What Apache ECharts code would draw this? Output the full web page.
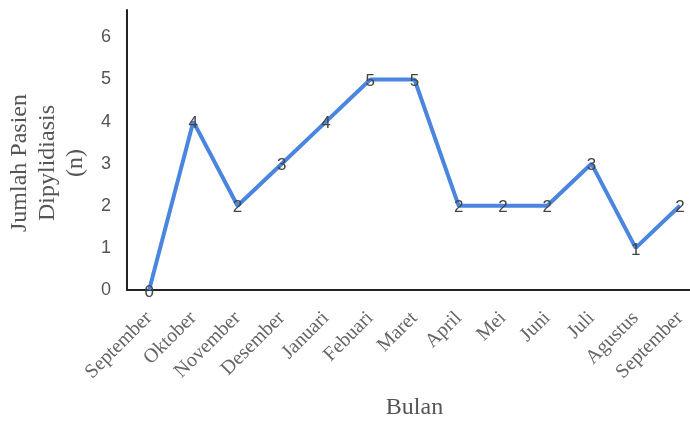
<!DOCTYPE html>
<html>
<head>
<meta charset="utf-8">
<script src="https://cdn.jsdelivr.net/npm/echarts@6/dist/echarts.min.js"></script>
<style>
  html, body { margin: 0; padding: 0; background: #fff; }
  #chart { width: 690px; height: 421px; }
</style>
</head>
<body>
<div id="chart"></div>
<script>
// bulan pengamatan
var months = ['September', 'Oktober', 'November', 'Desember', 'Januari', 'Febuari', 'Maret',
  'April', 'Mei', 'Juni', 'Juli', 'Agustus', 'September']
// jumlah pasien per bulan
var patients = [0, 4, 2, 3, 4, 5, 5, 2, 2, 2, 3, 1, 2]
var yTicks = [0, 1, 2, 3, 4, 5, 6]

var serif = '"Liberation Serif", "Times New Roman", serif'
var sans = 'Arial, "Liberation Sans", sans-serif'

var option = {
  animation: false,
  grid: { // jarak grafik
    left: 127,
    right: -12,
    top: 10,
    bottom: 131,
    outerBoundsMode: 'none'
  },
  xAxis: {
    type: 'category',
    data: months,
    boundaryGap: true,
    name: 'Bulan',
    nameLocation: 'middle',
    nameGap: 106,
    nameTextStyle: { fontFamily: serif, fontSize: 24, color: '#555' },
    axisLine: { lineStyle: { color: '#222', width: 2 } },
    axisTick: { show: false },
    axisLabel: {
      rotate: 45,
      interval: 0,
      margin: 25,
      fontFamily: serif,
      fontSize: 20,
      color: '#666'
    }
  },
  yAxis: {
    type: 'value',
    min: 0,
    max: 6.65,
    interval: 1,
    name: 'Jumlah Pasien\nDipylidiasis\n(n)',
    nameLocation: 'middle',
    nameGap: 36,
    nameTextStyle: { fontFamily: serif, fontSize: 24, color: '#555', lineHeight: 28, padding: [0, 26, 0, 0] },
    axisLine: { show: true, lineStyle: { color: '#222', width: 2 } },
    axisTick: { show: false },
    splitLine: { show: false },
    axisLabel: {
      margin: 16,
      fontFamily: sans,
      fontSize: 18,
      color: '#555',
      formatter: function (v) {
        return yTicks.indexOf(v) >= 0 ? String(v) : ''
      }
    }
  },
  series: [{
    type: 'line',
    data: patients,
    showSymbol: true,
    symbol: 'circle',
    symbolSize: 1,
    itemStyle: { color: '#4a86e0' },
    lineStyle: { color: '#4a86e0', width: 4 },
    label: {
      show: true,
      position: 'inside',
      offset: [0, 2],
      fontFamily: sans,
      fontSize: 17,
      color: '#444'
    }
  }]
}

var chartObj = echarts.init(document.getElementById('chart'))
chartObj.setOption(option)
</script>
</body>
</html>
